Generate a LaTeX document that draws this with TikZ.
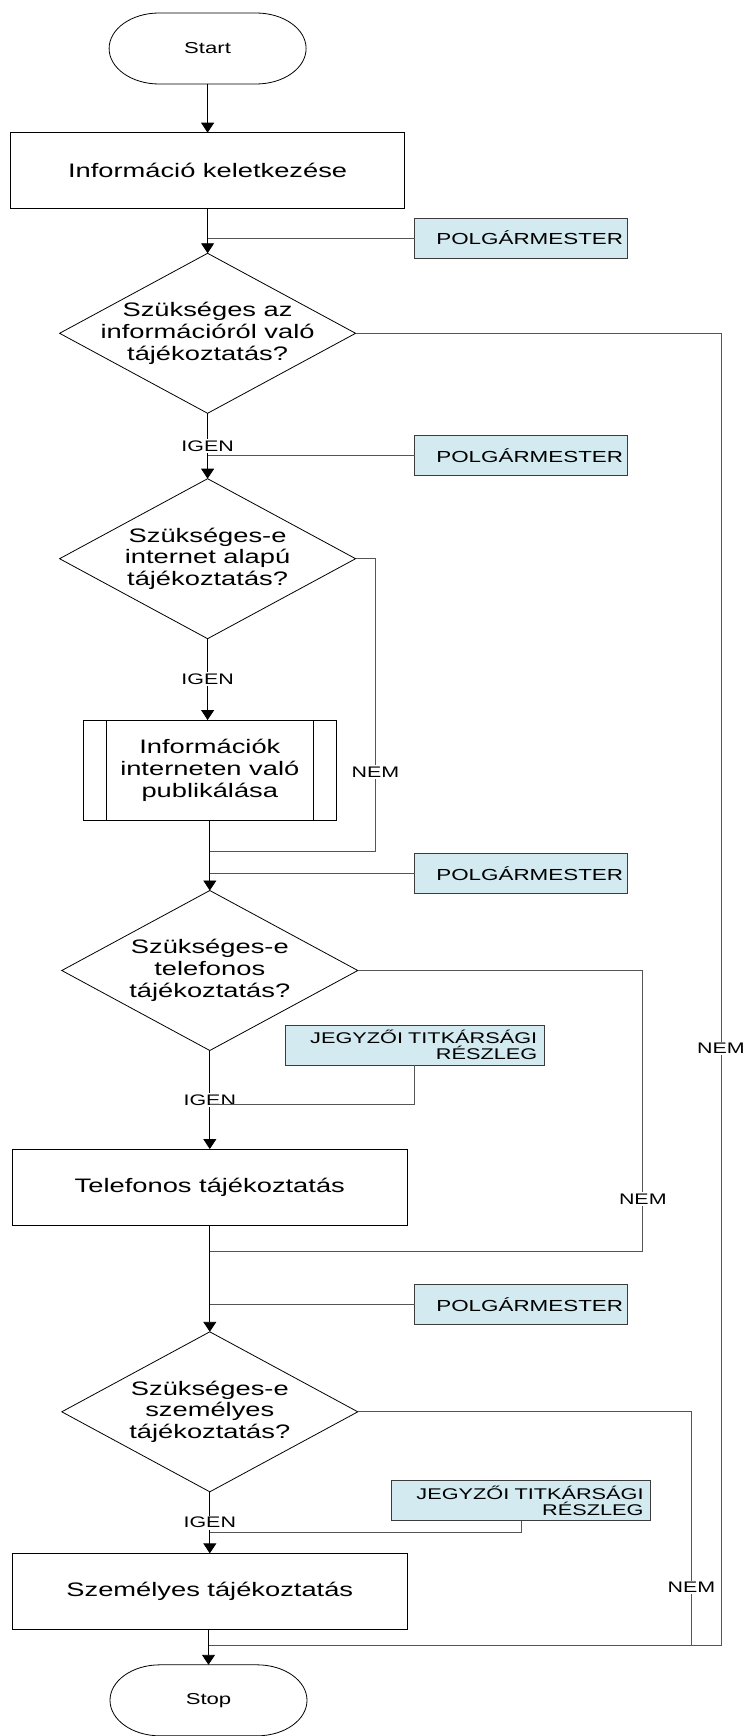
\documentclass[tikz,border=0pt]{standalone}
\usepackage{fontspec}
\setmainfont{Liberation Sans}[FakeStretch=1.4]
\usetikzlibrary{shapes.geometric,arrows.meta}
\definecolor{rolefill}{RGB}{210,234,240}
\definecolor{roleedge}{RGB}{60,60,60}
\definecolor{sideline}{RGB}{85,85,85}

% outline of a start/stop terminal around an (undrawn) node
\newcommand\drawterminal[1]{%
  \draw[line width=0.8pt] ([xshift=50pt]#1.north west) -- ([xshift=-50pt]#1.north east)
    arc[start angle=90,end angle=-90,x radius=50pt,y radius=35.5pt]
    -- ([xshift=50pt]#1.south west)
    arc[start angle=270,end angle=90,x radius=50pt,y radius=35.5pt] -- cycle;}

\begin{document}
\begin{tikzpicture}[x=1pt,y=1pt,
  every node/.style={inner sep=0pt, outer sep=0pt},
  bigtext/.style={font=\fontsize{19.5}{21.7}\selectfont, align=center},
  terminal/.style={minimum width=197pt, minimum height=71pt, font=\fontsize{15.8}{18}\selectfont},
  process/.style={draw, line width=0.8pt, bigtext},
  decision/.style={diamond, draw, line width=0.8pt, minimum width=296pt, minimum height=160pt},
  question/.style={bigtext},
  rolebox/.style={draw=roleedge, line width=0.8pt, fill=rolefill, align=right,
    minimum height=40pt, inner xsep=4pt, text width=204.5pt,
    font=\fontsize{16}{18}\selectfont},
  jegyzo/.style={draw=roleedge, line width=0.8pt, fill=rolefill, align=right,
    minimum height=40.3pt, inner xsep=7pt, text width=245pt,
    font=\fontsize{15.5}{16.2}\selectfont},
  tag/.style={fill=white, inner sep=1.5pt, font=\fontsize{15.3}{17}\selectfont},
  flow/.style={draw, line width=0.9pt, -{Triangle[length=10pt,width=13pt]}},
  feed/.style={draw=sideline, line width=0.8pt},
  nemline/.style={draw=sideline, line width=0.8pt},
]
\useasboundingbox (0,0) rectangle (745,-1736);

% ---- nodes ----
\node[terminal] (start) at (207.6,-48.5) {Start};
\node[process, minimum width=394pt, minimum height=75.6pt] (info) at (207.6,-170.5) {Információ keletkezése};
\node[rolebox] (pm1) at (520.8,-238) {POLGÁRMESTER};

\node[decision] (d1) at (207.6,-333.3) {};
\node[question] (q1) at (d1) {Szükséges az\\információról való\\tájékoztatás?};
\node[rolebox] (pm2) at (520.8,-455.3) {POLGÁRMESTER};

\node[decision] (d2) at (207.6,-558.7) {};
\node[question] (q2) at (d2) {Szükséges-e\\internet alapú\\tájékoztatás?};

\node[process, minimum width=253.7pt, minimum height=100.3pt] (pub) at (209.8,-770.2) {Információk\\interneten való\\publikálása};
\draw[line width=0.8pt] ([xshift=23pt]pub.north west) -- ([xshift=23pt]pub.south west);
\draw[line width=0.8pt] ([xshift=-23pt]pub.north east) -- ([xshift=-23pt]pub.south east);
\node[rolebox] (pm3) at (520.8,-873.3) {POLGÁRMESTER};

\node[decision] (d3) at (209.8,-970.5) {};
\node[question] (q3) at (d3) {Szükséges-e\\telefonos\\tájékoztatás?};
\node[jegyzo] (jt1) at (414.7,-1045.2) {JEGYZŐI TITKÁRSÁGI\\RÉSZLEG};

\node[process, minimum width=394.5pt, minimum height=76pt] (tel) at (209.8,-1187) {Telefonos tájékoztatás};
\node[rolebox] (pm4) at (520.8,-1304.2) {POLGÁRMESTER};

\node[decision] (d4) at (209.8,-1411.8) {};
\node[question] (q4) at (d4) {Szükséges-e\\személyes\\tájékoztatás?};
\node[jegyzo] (jt2) at (521,-1500.7) {JEGYZŐI TITKÁRSÁGI\\RÉSZLEG};

\node[process, minimum width=394.5pt, minimum height=75.7pt] (pers) at (209.8,-1591.2) {Személyes tájékoztatás};
\node[terminal] (stop) at (208.5,-1700.3) {Stop};

\drawterminal{start}
\drawterminal{stop}

% ---- bend points of the side connectors ----
\coordinate (m1) at (721,-1645);
\coordinate (m2) at (375.4,-851.3);
\coordinate (m3) at (642.8,-1251.3);
\coordinate (m4) at (691.5,-1645);
\coordinate (j1) at (209.8,-1104);
\coordinate (j2) at (209.8,-1532.7);

% ---- "NEM" branches ----
\draw[nemline] (d1.east) -| (m1) -- (m4);
\draw[nemline] (d2.east) -| (m2) -- (m2 -| pub.south);
\draw[nemline] (d3.east) -| (m3) -- (m3 -| tel.south);
\draw[nemline] (d4.east) -| (m4) -- (m4 -| stop.north);

% ---- main flow ----
\draw[flow] (start) -- (info);
\draw[flow] (info) -- (d1);
\draw[flow] (d1) -- node[tag] (igen1) {IGEN} (d2);
\draw[flow] (d2.south) -- node[tag] (igen2) {IGEN} (d2.south |- pub.north);
\draw[flow] (pub) -- (d3);
\draw[flow] (d3) -- node[tag] (igen3) {IGEN} (tel);
\draw[flow] (tel) -- (d4);
\draw[flow] (d4) -- node[tag] (igen4) {IGEN} (pers);
\draw[flow] (pers.south -| stop.north) -- (stop.north);

% ---- responsible parties feeding into the flow ----
\draw[feed] (pm1.west) -- (pm1.west -| info.south);
\draw[feed] (pm2.west) -- (pm2.west -| d1.south);
\draw[feed] (pm3.west) -- (pm3.west -| pub.south);
\draw[feed] (pm4.west) -- (pm4.west -| tel.south);
\draw[feed] (jt1.south) |- (j1);
\draw[feed] (jt2.south) |- (j2);

% ---- branch labels ----
\node[tag] (nem1) at (721,-1048.3) {NEM};
\node[tag] (nem2) at (375.4,-772) {NEM};
\node[tag] (nem3) at (642.8,-1199) {NEM};
\node[tag] (nem4) at (691.5,-1587.7) {NEM};
\end{tikzpicture}
\end{document}
